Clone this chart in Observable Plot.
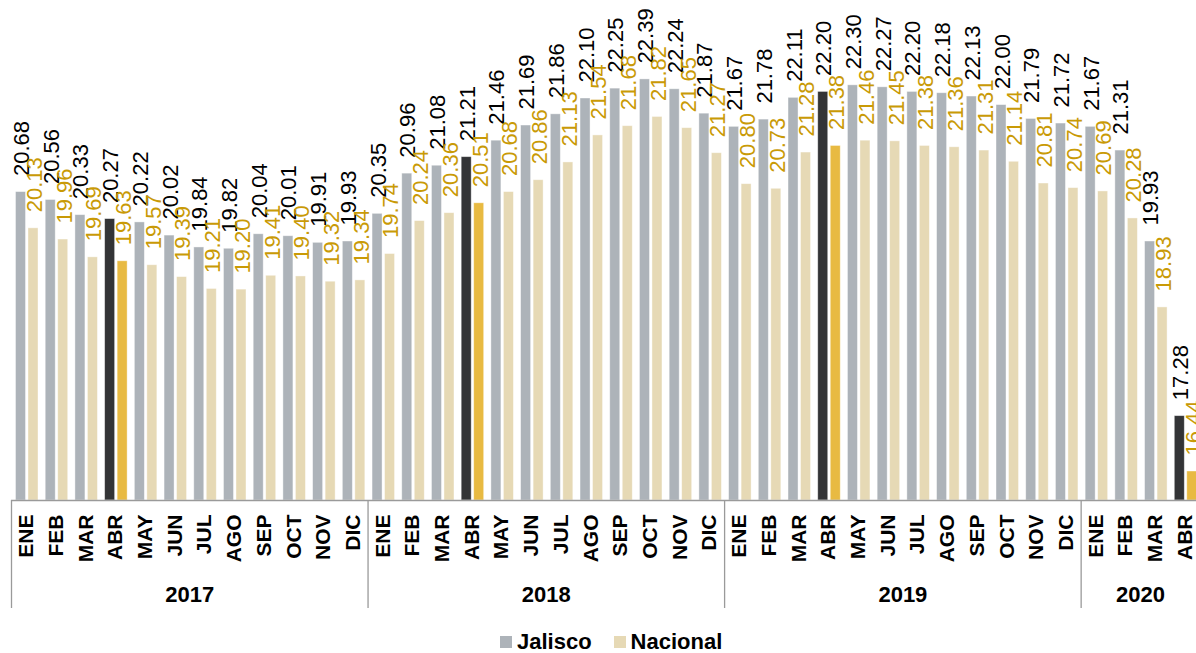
<!DOCTYPE html>
<html>
<head>
<meta charset="utf-8">
<script src="https://cdn.jsdelivr.net/npm/d3@7"></script>
<script src="https://cdn.jsdelivr.net/npm/@observablehq/plot@0.6"></script>
<style>
  html, body { margin: 0; padding: 0; background: #fff; overflow: hidden; width: 1196px; height: 653px; }
  #chart svg { display: block; overflow: hidden; max-width: none !important; }
  .legend { position: absolute; left: 500px; top: 628px; height: 28px; display: flex; align-items: center;
            font-family: "Liberation Sans", Arial, sans-serif; font-weight: bold; font-size: 22px; color: #000; }
  .legend .sw { width: 12px; height: 12px; display: inline-block; margin-right: 5px; }
  .legend .item { display: flex; align-items: center; margin-right: 22px; }
</style>
</head>
<body>
<div id="chart"></div>
<div class="legend">
  <span class="item"><span class="sw" style="background:#adb3b9"></span>Jalisco</span>
  <span class="item"><span class="sw" style="background:#e6d9b5"></span>Nacional</span>
</div>
<script>
// ---- Data ----
const years = ["2017", "2018", "2019", "2020"];
const monthsPerYear = [12, 12, 12, 4];
const monthNames = ["ENE", "FEB", "MAR", "ABR", "MAY", "JUN", "JUL", "AGO", "SEP", "OCT", "NOV", "DIC"];
const highlightMonth = "ABR";

const jalisco = [
  20.68, 20.56, 20.33, 20.27, 20.22, 20.02, 19.84, 19.82, 20.04, 20.01, 19.91, 19.93,
  20.35, 20.96, 21.08, 21.21, 21.46, 21.69, 21.86, 22.10, 22.25, 22.39, 22.24, 21.87,
  21.67, 21.78, 22.11, 22.20, 22.30, 22.27, 22.20, 22.18, 22.13, 22.00, 21.79, 21.72,
  21.67, 21.31, 19.93, 17.28
];
const nacional = [
  20.13, 19.96, 19.69, 19.63, 19.57, 19.39, 19.21, 19.20, 19.41, 19.40, 19.32, 19.34,
  19.74, 20.24, 20.36, 20.51, 20.68, 20.86, 21.13, 21.54, 21.68, 21.82, 21.65, 21.27,
  20.80, 20.73, 21.28, 21.38, 21.46, 21.45, 21.38, 21.36, 21.31, 21.14, 20.81, 20.74,
  20.69, 20.28, 18.93, 16.44
];
const yMin = 16, yMax = 23;

// ---- Build rows ----
const rows = [];
years.forEach((yr, yi) => {
  for (let m = 0; m < monthsPerYear[yi]; m++) {
    const i = rows.length;
    rows.push({key: `${yr}-${m}`, year: yr, month: monthNames[m], jal: jalisco[i], nac: nacional[i]});
  }
});
const keys = rows.map(d => d.key);
const yearStarts = years.map(yr => rows.find(d => d.year === yr));
const yearCenters = years.map((yr) => {
  const g = rows.filter(d => d.year === yr);
  return {year: yr, key: g[Math.floor(g.length / 2) - 1].key};
});

// ---- Layout ----
const W = 1196, H = 625, mL = 11, mR = -3.5, mT = 38.7, mB = 125;
const bw = (W - mL - mR) / keys.length;
const font = '"Liberation Sans", Arial, sans-serif';
const C = {jal: "#adb3b9", nac: "#e6d9b5", jalHi: "#333436", nacHi: "#e8ba42", nacLbl: "#c99a06", axis: "#9a9a9a"};

const jalBar = {left: 4.5, right: bw - 14.5};
const nacBar = {left: 17, right: bw - 27};
const jalCenter = (4.5 + 14.5) / 2 - bw / 2;
const nacCenter = (17 + 27) / 2 - bw / 2;

const chart = Plot.plot({
  width: W, height: H,
  marginLeft: mL, marginRight: mR, marginTop: mT, marginBottom: mB,
  style: {fontFamily: font, background: "#fff", maxWidth: "none"},
  x: {type: "band", domain: keys, padding: 0, round: false, axis: null, range: [mL, W - mR]},
  y: {domain: [yMin, yMax], axis: null},
  color: {type: "identity"},
  marks: [
    Plot.barY(rows, {
      x: "key", y1: () => yMin, y2: "jal",
      fill: d => d.month === highlightMonth ? C.jalHi : C.jal,
      insetLeft: jalBar.left, insetRight: jalBar.right,
      stroke: "#fff", strokeWidth: 0.8, strokeOpacity: 0.5
    }),
    Plot.barY(rows, {
      x: "key", y1: () => yMin, y2: "nac",
      fill: d => d.month === highlightMonth ? C.nacHi : C.nac,
      insetLeft: nacBar.left, insetRight: nacBar.right,
      stroke: "#fff", strokeWidth: 0.8, strokeOpacity: 0.5
    }),
    Plot.ruleY([yMin], {stroke: C.axis, strokeWidth: 1.3}),
    Plot.ruleX(yearStarts, {
      x: "key", dx: -bw / 2, y1: () => yMin, y2: () => yMin,
      insetBottom: -108, stroke: C.axis, strokeWidth: 1.3
    }),
    // value labels
    Plot.text(rows, {
      x: "key", y: "jal", text: d => d.jal.toFixed(2),
      rotate: -90, textAnchor: "start", dy: -16, dx: jalCenter + 1,
      fontSize: 22, fill: "#000"
    }),
    Plot.text(rows, {
      x: "key", y: "nac", text: d => d.nac.toFixed(2),
      rotate: -90, textAnchor: "start", dy: -16, dx: nacCenter + 1.3,
      fontSize: 22, fill: C.nacLbl
    }),
    // month tick labels
    Plot.text(rows, {
      x: "key", y: () => yMin, text: "month",
      rotate: -90, textAnchor: "end", dy: 14,
      fontSize: 21, fontWeight: "bold", fill: "#000"
    }),
    // year labels
    Plot.text(yearCenters, {
      x: "key", y: () => yMin, text: "year",
      dx: bw / 2, dy: 94.5,
      fontSize: 22, fontWeight: "bold", fill: "#000"
    })
  ]
});
document.getElementById("chart").appendChild(chart);
</script>
</body>
</html>
